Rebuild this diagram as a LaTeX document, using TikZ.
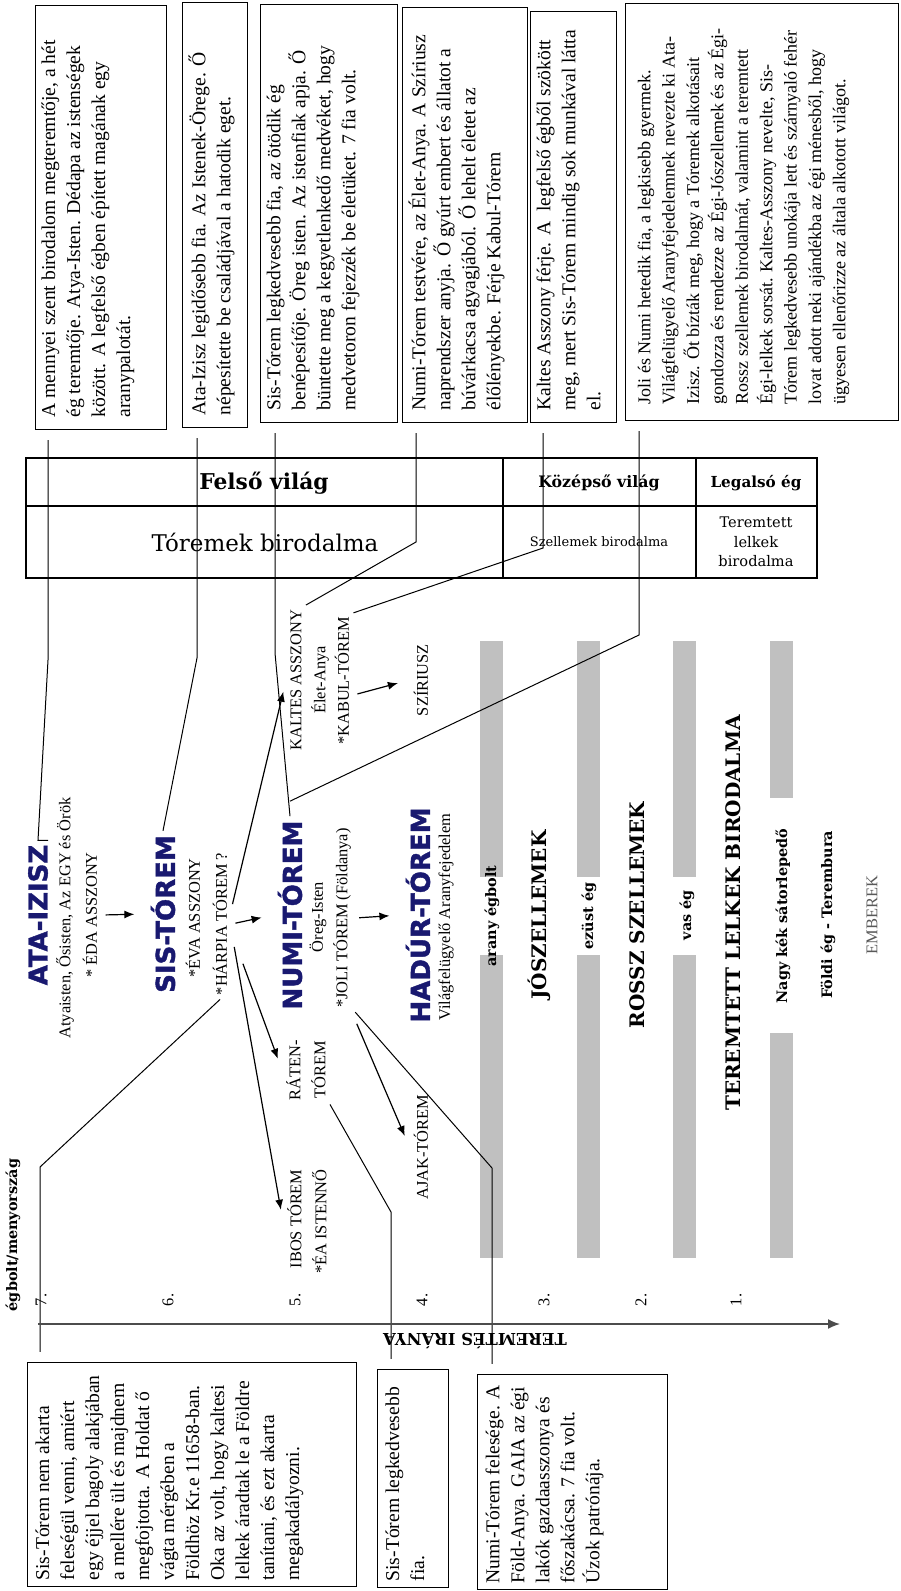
\documentclass[tikz,border=0pt]{standalone}
\usepackage{fontspec}
\setmainfont{Liberation Serif}
\newfontfamily\slabfont{DejaVu Serif}
\newfontfamily\heavyfont[BoldFeatures={FakeBold=1.6}]{DejaVu Sans}
\usetikzlibrary{calc,arrows.meta}
\definecolor{godblue}{RGB}{25,25,112}
\definecolor{bargray}{RGB}{192,192,192}
\newcommand{\boxfont}{\fontsize{9.8}{12.5}\selectfont}
\newcommand{\godfont}{\heavyfont\bfseries\fontsize{13}{15}\selectfont}
\newcommand{\labelfont}{\fontsize{8.2}{12.5}\selectfont}
\newcommand{\bandfont}{\slabfont\bfseries\fontsize{10}{12}\selectfont}
\newcommand{\skyfont}{\slabfont\bfseries\fontsize{7.2}{9}\selectfont}

\begin{document}
\begin{tikzpicture}[x=0.5pt, y=-0.5pt,
		infobox/.style={draw, rotate=90, line width=0.6pt, inner xsep=6pt, inner ysep=3pt, font=\boxfont},
		god/.style={rotate=90, text=godblue, font=\godfont, inner sep=2pt},
		lbl/.style={rotate=90, font=\labelfont, inner sep=2pt, align=center},
		band/.style={rotate=90, font=\bandfont, inner sep=2pt},
		sky/.style={rotate=90, font=\skyfont, inner sep=2pt},
		arr/.style={-{Latex[length=5pt,width=4pt]}, line width=0.6pt, shorten <=2pt, shorten >=6pt},
		callout/.style={line width=0.5pt, shorten <=5pt}]
		%%%%% START %%%%%
		\useasboundingbox (0,0) rectangle (900,1591);
		
		% text boxes, top row
		\node[infobox, anchor=north west] (box1) at (35,430) {\parbox[c][59.5pt][t]{200pt}{\raggedright
				A mennyei szent birodalom megteremtője, a hét\\
				ég teremtője. Atya-Isten. Dédapa az istenségek\\
				között. A legfelső égben épített magának egy\\
				aranypalotát.}};
		\node[infobox, anchor=north west] (box2) at (182,428) {\parbox[c][26.5pt][t]{200.5pt}{\raggedright
				Ata-Izisz legidősebb fia. Az Istenek-Örege. Ő\\
				népesítette be családjával a hatodik eget.}};
		\node[infobox, anchor=north west] (box3) at (260,423) {\parbox[c][62.5pt][t]{197pt}{\raggedright
				Sis-Tórem legkedvesebb fia, az ötödik ég\\
				benépesítője. Öreg isten. Az istenfiak apja. Ő\\
				büntette meg a kegyetlenkedő medvéket, hogy\\
				medvetoron fejezzék be életüket. 7 fia volt.}};
		\node[infobox, anchor=north west] (box4) at (402,423) {\parbox[c][56.5pt][t]{195.5pt}{\raggedright
				Numi-Tórem testvére, az Élet-Anya. A Szíriusz\\
				naprendszer anyja. Ő gyúrt embert és állatot a\\
				búvárkacsa agyagjából. Ő lehelt életet az\\
				élőlényekbe. Férje Kabul-Tórem}};
		\node[infobox, anchor=north west] (box5) at (530,423) {\parbox[c][37pt][t]{193.5pt}{\raggedright
				Kaltes Asszony férje. A\ \ legfelső égből szökött\\
				meg, mert Sis-Tórem mindig sok munkával látta\\
				el.}};
		\node[infobox, anchor=north west, inner xsep=8pt, inner ysep=6pt] (box6) at (625,421) {\parbox[c][124.5pt][t]{192.5pt}{\raggedright\fontsize{9}{12.2}\selectfont
				Joli és Numi hetedik fia, a legkisebb gyermek.\\
				Világfelügyelő Aranyfejedelemnek nevezte ki Ata-\\
				Izisz. Őt bízták meg, hogy a Tóremek alkotásait\\
				gondozza és rendezze az Égi-Jószellemek és az Égi-\\
				Rossz szellemek birodalmát, valamint a teremtett\\
				Égi-lelkek sorsát. Kaltes-Asszony nevelte, Sis-\\
				Tórem legkedvesebb unokája lett és szárnyaló fehér\\
				lovat adott neki ajándékba az égi ménesből, hogy\\
				ügyesen ellenőrizze az általa alkotott világot.}};
		
		% text boxes, bottom row
		\node[infobox, anchor=north west, inner xsep=3pt, inner ysep=4pt] (box7) at (27,1587) {\parbox[c][156.5pt][t]{106pt}{\raggedright
				Sis-Tórem nem akarta\\
				feleségül venni, amiért\\
				egy éjjel bagoly alakjában\\
				a mellére ült és majdnem\\
				megfojtotta. A Holdat ő\\
				vágta mérgében a\\
				Földhöz Kr.e 11658-ban.\\
				Oka az volt, hogy kaltesi\\
				lelkek áradtak le a Földre\\
				tanítani, és ezt akarta\\
				megakadályozni.}};
		\node[infobox, anchor=north west, inner xsep=3pt, inner ysep=4pt] (box8) at (377,1588) {\parbox[c][27.5pt][t]{103pt}{\raggedright
				Sis-Tórem legkedvesebb\\
				fia.}};
		\node[infobox, anchor=north west, inner xsep=3pt, inner ysep=4pt] (box9) at (477,1590) {\parbox[c][87pt][t]{101.5pt}{\raggedright
				Numi-Tórem felesége. A\\
				Föld-Anya. GAIA az égi\\
				lakók gazdaasszonya és\\
				főszakácsa. 7 fia volt.\\
				Úzok patrónája.}};
		
		% world table
		\draw[line width=0.6pt] (26,458) rectangle (817,578);
		\draw[line width=0.6pt] (26,506) -- (817,506);
		\draw[line width=0.6pt] (503,458) -- (503,578);
		\draw[line width=0.6pt] (696,458) -- (696,578);
		\node[font=\slabfont\bfseries\fontsize{10.9}{13}\selectfont] (felso) at (264,483) {Felső világ};
		\node[font=\slabfont\bfseries\fontsize{7.9}{10}\selectfont] (kozepso) at (599,483) {Középső világ};
		\node[font=\slabfont\bfseries\fontsize{7.6}{10}\selectfont] (legalso) at (756,483) {Legalsó ég};
		\node[font=\slabfont\fontsize{11.5}{14}\selectfont] (toremek) at (265,542) {Tóremek birodalma};
		\node[font=\slabfont\fontsize{6.5}{8}\selectfont] (szellemek) at (599,542) {Szellemek birodalma};
		\node[font=\slabfont\fontsize{7.3}{9.75}\selectfont, align=center] (lelkek) at (756,542) {Teremtett\\lelkek\\birodalma};
		
		% gray sky bands
		\foreach \bx in {480,577,673} {
			\fill[bargray] (\bx,641) rectangle (\bx+23,877);
			\fill[bargray] (\bx,955) rectangle (\bx+23,1258);
		}
		\fill[bargray] (770,641) rectangle (793,798);
		\fill[bargray] (770,1033) rectangle (793,1258);
		
		\node[sky] (arany) at (492,916) {arany égbolt};
		\node[sky] (ezust) at (589,916) {ezüst ég};
		\node[sky] (vas) at (687,915) {vas ég};
		\node[sky] (sator) at (783,916) {Nagy kék sátorlepedő};
		\node[sky] (foldi) at (828,915) {Földi ég - Terembura};
		\node[sky] (egbolt) at (13,1235) {égbolt/menyország};
		
		\node[band] (jo) at (539,915) {JÓSZELLEMEK};
		\node[band] (rossz) at (637,915) {ROSSZ SZELLEMEK};
		\node[band] (teremtett) at (733,913) {TEREMTETT LELKEK BIRODALMA};
		\node[lbl, text=black!65] (emberek) at (872,915) {EMBEREK};
		
		% gods
		\node[god] (ata) at (38,915) {ATA-IZISZ};
		\node[lbl] (atadesc) at (65,918) {Atyaisten, Ősisten, Az EGY és Örök};
		\node[lbl] (eda) at (90,915) {* ÉDA ASSZONY};
		
		\node[god] (sis) at (163,914) {SIS-TÓREM};
		\node[lbl] (eva) at (193,918) {*ÉVA ASSZONY};
		\node[lbl] (harpia) at (220,924) {*HÁRPIA TÓREM ?};
		
		\node[god] (numi) at (290,915) {NUMI-TÓREM};
		\node[lbl] (oreg) at (318,917) {Öreg-Isten};
		\node[lbl] (joli) at (342,918) {*JOLI TÓREM (Földanya)};
		
		\node[god] (hadur) at (418,915) {HADÚR-TÓREM};
		\node[lbl] (vilag) at (446,917) {Világfelügyelő Aranyfejedelem};
		
		\node[lbl] (kaltes) at (296,680) {KALTES ASSZONY};
		\node[lbl] (eletanya) at (320,680) {Élet-Anya};
		\node[lbl] (kabul) at (342,681) {*KABUL-TÓREM};
		\node[lbl] (sziriusz) at (421,680) {SZÍRIUSZ};
		
		\node[lbl] (raten) at (306,1070) {RÁTEN-\\TÓREM};
		\node[lbl, align=right, anchor=east] (ibos) at (307,1165) {IBOS TÓREM\\*ÉA ISTENNŐ};
		\node[lbl] (ajak) at (421,1147) {AJAK-TÓREM};
		
		% arrows
		\draw[arr] (eda.south) -- (sis.north);
		\draw[arr] (harpia.south) -- (numi.north);
		\draw[arr] ($(harpia.south)+(0,-16)$) -- (kaltes.north);
		\draw[arr] ($(harpia.south)+(10,36)$) -- (raten.north);
		\draw[arr] ($(harpia.south)+(2,19)$) -- (ibos.north);
		\draw[arr] (joli.south) -- (hadur.north);
		\draw[arr] ($(joli.south west)+(0,8)$) -- (ajak.north);
		\draw[arr] ($(kabul.south)+(0,14)$) -- (sziriusz.north);
		
		% callout lines
		\draw[callout] (box1.west -| 48,0) -- (48,660) -- (ata.east) -- ++(10,0);
		\draw[callout] (box2.west -| 197,0) -- (197,658) -- (sis.east);
		\draw[callout] (box3.west -| 275,0) -- (275,653) -- (numi.east);
		\draw[callout] (box4.west -| 416,0) -- (416,542) -- (kaltes.south east);
		\draw[callout] (box5.west -| 543,0) -- (543,548) -- (kabul.south east);
		\draw[callout] (box6.west -| 639,0) -- (639,635) -- ($(numi.east)+(0,-15)$);
		\draw[callout] (box7.east -| 40,0) -- (40,1167) -- (harpia.west);
		\draw[callout] (box8.east -| 391,0) -- (391,1212) -- (raten.south west);
		\draw[callout] (box9.east -| 492,0) -- (492,1168) -- (joli.south west);
		
		% creation axis
		\coordinate (axstart) at (38,1324);
		\coordinate (axend) at (840,1324);
		\draw[-{Latex[length=6pt,width=5pt]}, line width=0.8pt, draw=black!70] (axstart) -- (axend);
		\foreach \lev/\lx in {7/41,6/168,5/295,4/422,3/544,2/641,1/736}
			\node[lbl] (lev\lev) at (\lx,1300) {\lev.};
		\node[rotate=180, font=\slabfont\bfseries\fontsize{8.2}{10}\selectfont] (irany) at (475,1341) {TEREMTÉS IRÁNYA};
		
		%%%%% END %%%%%
	\end{tikzpicture}
\end{document}
